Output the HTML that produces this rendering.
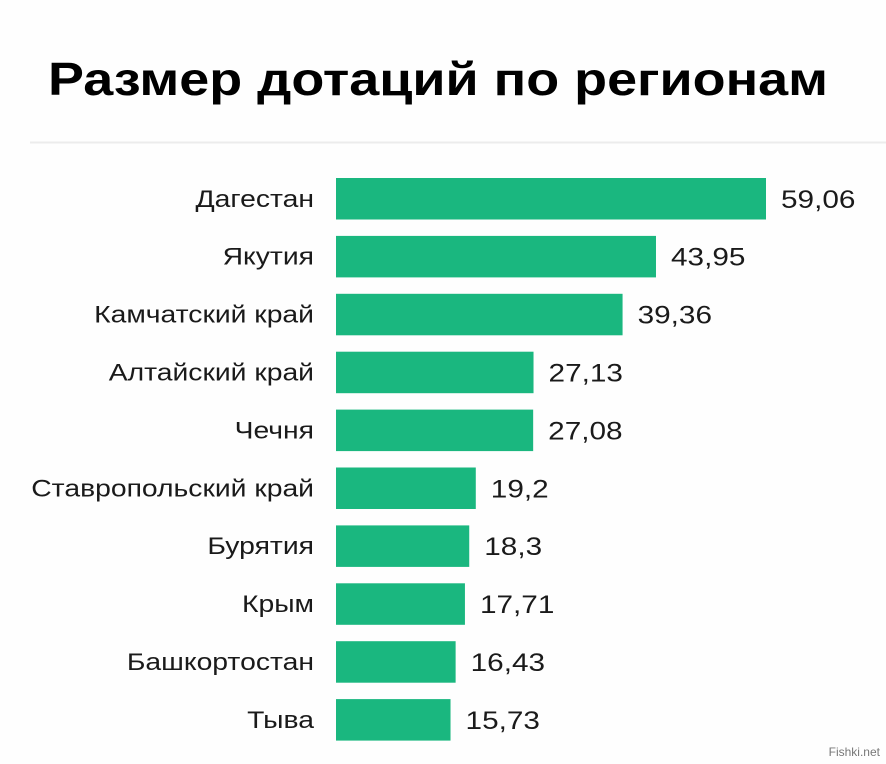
<!DOCTYPE html>
<html><head><meta charset="utf-8"><style>
html,body{margin:0;padding:0;background:#fff;}
svg{display:block;font-family:"Liberation Sans","DejaVu Sans",sans-serif;}
</style></head><body>
<svg id="chart" width="886" height="764" viewBox="0 0 886 764">
<rect width="886" height="764" fill="#fefefe"/>
<text x="48" y="95" font-size="46" font-weight="bold" fill="#000" textLength="780" lengthAdjust="spacingAndGlyphs">Размер дотаций по регионам</text>
<line x1="30" y1="142.5" x2="886" y2="142.5" stroke="#ececec" stroke-width="2"/>
<g id="bars"></g>
<text x="880" y="756" font-size="12" fill="#777" text-anchor="end">Fishki.net</text>
</svg>
<script>
const categories = ["Дагестан","Якутия","Камчатский край","Алтайский край","Чечня","Ставропольский край","Бурятия","Крым","Башкортостан","Тыва"];
const values = [59.06,43.95,39.36,27.13,27.08,19.2,18.3,17.71,16.43,15.73];
const valueLabels = ["59,06","43,95","39,36","27,13","27,08","19,2","18,3","17,71","16,43","15,73"];

const NS = "http://www.w3.org/2000/svg";
const x0 = 336, pxPerUnit = 430 / 59.06;
const y0 = 178, step = 57.9, barH = 41.5;
const xScale = v => x0 + v * pxPerUnit;
const yScale = i => y0 + i * step;
const g = document.getElementById("bars");
categories.forEach((c, i) => {
  const y = yScale(i);
  const r = document.createElementNS(NS, "rect");
  r.setAttribute("x", x0); r.setAttribute("y", y);
  r.setAttribute("width", xScale(values[i]) - x0); r.setAttribute("height", barH);
  r.setAttribute("fill", "#1ab77f");
  
  
  g.appendChild(r);
  const l = document.createElementNS(NS, "text");
  l.setAttribute("x", 0); l.setAttribute("y", 0);
  l.setAttribute("transform", "translate(314," + (y + barH / 2 + 8) + ") scale(1.18,1)");
  l.setAttribute("text-anchor", "end"); l.setAttribute("font-size", "24"); l.setAttribute("fill", "#1a1a1a");
  l.textContent = c;
  
  
  g.appendChild(l);
  const v = document.createElementNS(NS, "text");
  v.setAttribute("x", 0); v.setAttribute("y", 0);
  v.setAttribute("transform", "translate(" + (xScale(values[i]) + 15) + "," + (y + barH / 2 + 9) + ") scale(1.19,1)");
  v.setAttribute("font-size", "25"); v.setAttribute("fill", "#1a1a1a");
  v.textContent = valueLabels[i];
  
  
  g.appendChild(v);
});
</script>
</body></html>
